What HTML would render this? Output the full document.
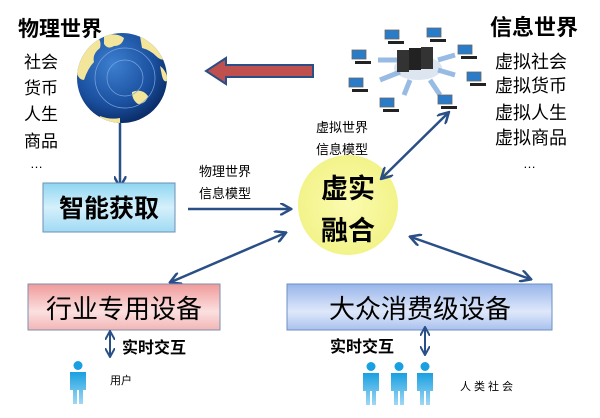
<!DOCTYPE html>
<html><head><meta charset="utf-8"><style>
html,body{margin:0;padding:0;background:#fff}
svg{display:block}
text{font-family:"Liberation Sans","Noto Sans CJK SC",sans-serif;fill:#000}
</style></head><body>
<svg width="600" height="418" viewBox="0 0 600 418" xmlns="http://www.w3.org/2000/svg">
<defs>
<radialGradient id="globe" cx="40%" cy="35%" r="65%">
<stop offset="0" stop-color="#3d7fd0"/><stop offset="0.7" stop-color="#1a4f9e"/><stop offset="1" stop-color="#0c2f6b"/></radialGradient>
<radialGradient id="sun" cx="50%" cy="50%" r="50%"><stop offset="0" stop-color="#fbfbb0"/><stop offset="1" stop-color="#f3f38a"/></radialGradient>
<linearGradient id="blue1" x1="0" y1="0" x2="0" y2="1"><stop offset="0" stop-color="#8fd6f2"/><stop offset="0.5" stop-color="#d5f0fb"/><stop offset="1" stop-color="#9fdaf3"/></linearGradient>
<linearGradient id="pink" x1="0" y1="0" x2="0" y2="1"><stop offset="0" stop-color="#f09a9a"/><stop offset="0.6" stop-color="#fbe0e0"/><stop offset="1" stop-color="#f3b5b5"/></linearGradient>
<linearGradient id="blue2" x1="0" y1="0" x2="0" y2="1"><stop offset="0" stop-color="#98b5ea"/><stop offset="0.6" stop-color="#dfe8fa"/><stop offset="1" stop-color="#a9c1ee"/></linearGradient>
<linearGradient id="person" x1="0" y1="0" x2="0" y2="1"><stop offset="0" stop-color="#1aa0e0"/><stop offset="1" stop-color="#9fd8f5"/></linearGradient>
<clipPath id="gc"><circle cx="122" cy="78" r="45"/></clipPath>
<marker id="ah" viewBox="0 0 10 10" refX="8" refY="5" markerWidth="5" markerHeight="5" orient="auto-start-reverse"><path d="M0,0 L9,5 L0,10" fill="none" stroke="#2a4f86" stroke-width="2"/></marker>
<g id="pc"><rect x="0" y="0" width="14" height="9" fill="#2a7cc9" stroke="#666" stroke-width="0.8"/><rect x="3" y="11" width="16" height="3" fill="#222"/></g>
<g id="man"><circle cx="9" cy="4.5" r="4.5" fill="#1aa0e0"/><path d="M1,11 h16 v18 h-3 v14 h-4 v-14 h-2 v14 h-4 v-14 h-3z" fill="url(#person)"/></g>
</defs>

<text x="18" y="36" font-size="21" font-weight="bold">物理世界</text>
<g font-size="17">
<text x="24" y="68">社会</text><text x="24" y="94">货币</text><text x="24" y="120">人生</text><text x="24" y="147">商品</text><text x="30" y="168" font-size="13">…</text>
</g>
<circle cx="122" cy="78" r="45" fill="url(#globe)"/>
<g clip-path="url(#gc)" fill="#f3e59a">
<path d="M76,70 q2,-22 20,-34 q6,4 4,12 q-8,6 -6,14 q-6,6 -10,18 q-6,0 -8,-10z"/>
<path d="M104,36 q12,-4 20,2 q-2,8 -10,8 q-6,4 -10,-2z"/>
<path d="M140,36 q16,4 26,22 q-4,4 -10,-2 q-6,-6 -14,-8z"/>
<path d="M160,66 q6,4 8,14 q-4,4 -6,-4z"/>
<path d="M132,92 q10,-4 16,4 q-2,8 -10,8 q-6,-4 -6,-12z"/>
<path d="M100,116 q10,4 20,2 l0,10 l-22,0z"/>
</g>
<circle cx="125" cy="78" r="18" fill="none" stroke="#7aa6dd" stroke-width="0.7"/>
<circle cx="125" cy="78" r="30" fill="none" stroke="#7aa6dd" stroke-width="0.7"/>

<path d="M313,65 L226,65 L226,58 L206,71 L226,84 L226,77 L313,77Z" fill="#c0504d" stroke="#2a4f86" stroke-width="2"/>

<line x1="120" y1="123" x2="120" y2="186" stroke="#2a4f86" stroke-width="2.5" marker-end="url(#ah)"/>
<rect x="43" y="183" width="132" height="49" fill="url(#blue1)" stroke="#6d8fb5" stroke-width="1"/>
<text x="109" y="217" font-size="25" text-anchor="middle" font-weight="bold">智能获取</text>

<line x1="188" y1="209" x2="290" y2="209" stroke="#2a4f86" stroke-width="2.5" marker-end="url(#ah)"/>
<g font-size="13"><text x="199" y="176">物理世界</text><text x="199" y="198">信息模型</text>
<text x="316" y="132">虚拟世界</text><text x="316" y="154">信息模型</text></g>

<circle cx="348" cy="205" r="50" fill="url(#sun)"/>
<text x="348" y="198" font-size="27" text-anchor="middle" font-weight="bold">虚实</text>
<text x="348" y="240" font-size="27" text-anchor="middle" font-weight="bold">融合</text>

<ellipse cx="418" cy="68" rx="24" ry="12" fill="#dde6f0"/>
<g stroke="#8db4e2" stroke-width="5" opacity="0.9">
<line x1="400" y1="60" x2="378" y2="60"/><line x1="400" y1="72" x2="380" y2="80"/><line x1="410" y1="80" x2="404" y2="95"/><line x1="430" y1="80" x2="440" y2="95"/><line x1="438" y1="70" x2="455" y2="75"/><line x1="438" y1="60" x2="455" y2="55"/></g>
<rect x="397" y="50" width="12" height="22" fill="#333"/><rect x="409" y="48" width="12" height="22" fill="#222"/><rect x="421" y="47" width="12" height="22" fill="#333"/>
<use href="#pc" x="385" y="30"/><use href="#pc" x="427" y="28"/><use href="#pc" x="352" y="50"/><use href="#pc" x="458" y="45"/>
<use href="#pc" x="349" y="78"/><use href="#pc" x="467" y="72"/><use href="#pc" x="380" y="98"/><use href="#pc" x="438" y="95"/>

<line x1="382" y1="178" x2="448" y2="113" stroke="#2a4f86" stroke-width="2.5" marker-start="url(#ah)" marker-end="url(#ah)"/>

<text x="490" y="35" font-size="22" font-weight="bold">信息世界</text>
<g font-size="18"><text x="495" y="68">虚拟社会</text><text x="495" y="92">虚拟货币</text><text x="495" y="119">虚拟人生</text><text x="495" y="144">虚拟商品</text></g>
<text x="523" y="168" font-size="13">…</text>

<line x1="171" y1="282" x2="285" y2="233" stroke="#2a4f86" stroke-width="2.5" marker-start="url(#ah)" marker-end="url(#ah)"/>
<line x1="411" y1="237" x2="530" y2="279" stroke="#2a4f86" stroke-width="2.5" marker-start="url(#ah)" marker-end="url(#ah)"/>

<rect x="28" y="284" width="192" height="46" fill="url(#pink)" stroke="#7d8fb0" stroke-width="1"/>
<text x="124" y="318" font-size="26" text-anchor="middle">行业专用设备</text>
<rect x="287" y="284" width="265" height="46" fill="url(#blue2)" stroke="#6d8fc5" stroke-width="1"/>
<text x="420" y="318" font-size="26" text-anchor="middle">大众消费级设备</text>

<line x1="110" y1="332" x2="110" y2="356" stroke="#2a4f86" stroke-width="2" marker-start="url(#ah)" marker-end="url(#ah)"/>
<text x="122" y="353" font-size="16" font-weight="bold">实时交互</text>
<line x1="425" y1="328" x2="425" y2="354" stroke="#2a4f86" stroke-width="2" marker-start="url(#ah)" marker-end="url(#ah)"/>
<text x="330" y="352" font-size="16" font-weight="bold">实时交互</text>

<use href="#man" x="69" y="361"/>
<text x="110" y="384" font-size="11">用户</text>
<use href="#man" x="362" y="362"/><use href="#man" x="390" y="362"/><use href="#man" x="416" y="362"/>
<text x="460" y="390" font-size="11" letter-spacing="3">人类社会</text>
</svg>
</body></html>
